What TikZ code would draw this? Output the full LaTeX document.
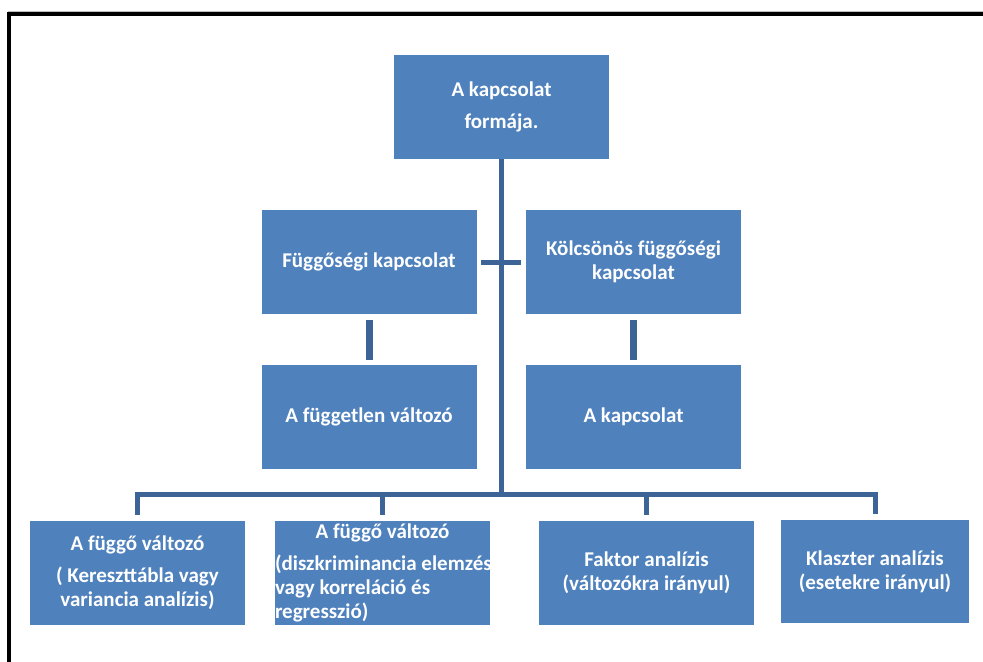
\documentclass[tikz,border=0pt]{standalone}
\usepackage{fontspec}
\setmainfont{Carlito}

\definecolor{boxblue}{HTML}{4F81BD}
\definecolor{linkblue}{HTML}{3C6496}

\tikzset{
  box/.style={fill=boxblue, text=white, font=\bfseries\fontsize{10.5}{12}\selectfont,
    align=center, inner sep=0pt, minimum width=107.5pt, minimum height=52pt},
  link/.style={draw=linkblue, line width=2.5pt},
  stub/.style={draw=linkblue, line width=3.5pt, shorten <=3pt, shorten >=2.5pt},
}

\begin{document}
\begin{tikzpicture}[x=0.5pt, y=-0.5pt]

  \useasboundingbox (0,0) rectangle (983,661);

  \draw[gray!50, line width=0.5pt] (8,11.3) -- (990,11.3);
  \draw[line width=2pt] (9.3,670) -- (9.3,14) -- (990,14);

  \node[box] (forma) at (501.5,106.5) {A kapcsolat\\[4pt]formája.};

  \node[box] (fuggo) at (369,262) {Függőségi kapcsolat};
  \node[box] (kolcs) at (633.5,262) {Kölcsönös függőségi\\kapcsolat};

  \node[box] (fuggetlen) at (369,417) {A független változó};
  \node[box] (kapcs) at (633.5,417) {A kapcsolat};

  \node[box] (kereszt) at (137.5,573) {A függő változó\\[4pt]( Kereszttábla vagy\\variancia analízis)};
  \node[box, text width=107.5pt, align=flush left] (diszkr) at (382.5,573)
    {\makebox[107.5pt]{A függő változó}\\[4pt]\makebox[107.5pt][l]{(diszkriminancia elemzés}\\vagy korreláció és\\regresszió)};
  \node[box] (faktor) at (646.5,573) {Faktor analízis\\(változókra irányul)};
  \node[box, minimum width=94pt, minimum height=51.5pt] (klaszter) at (875,571.5)
    {Klaszter analízis\\(esetekre irányul)};

  \coordinate (bus) at (501,494);

  \draw[link] (forma.south) -- (forma.south |- bus);
  \draw[link, shorten <=2pt, shorten >=2.5pt] (fuggo.east) -- (kolcs.west);
  \draw[stub] (fuggo.south) -- (fuggetlen.north);
  \draw[stub] (kolcs.south) -- (kapcs.north);

  \draw[link, shorten <=3pt, shorten >=3pt] (kereszt.north) -- (kereszt.north |- bus)
    -- (klaszter.north |- bus) -- (klaszter.north);
  \foreach \b in {diszkr, faktor}
  \draw[link, shorten >=3pt] (\b.north |- bus) -- (\b.north);

\end{tikzpicture}
\end{document}
